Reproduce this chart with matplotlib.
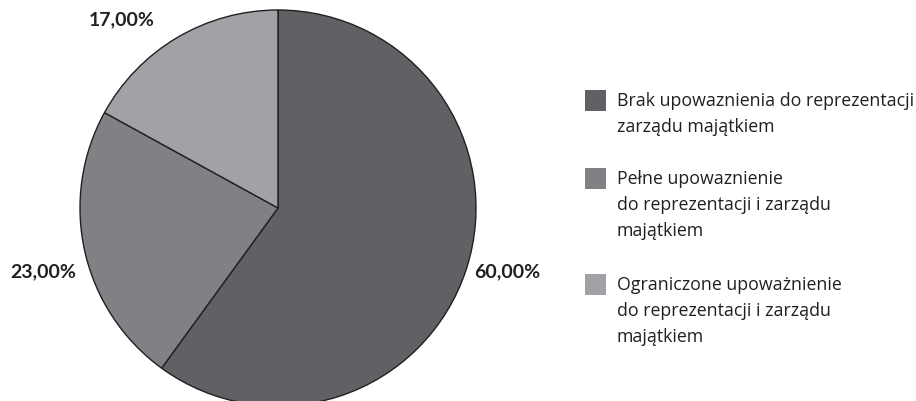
import numpy as np
import matplotlib.pyplot as plt
from matplotlib.patches import Rectangle

# Datos
etiquetas = ['Brak upowaznienia do reprezentacji\nzarządu majątkiem',
             'Pełne upowaznienie\ndo reprezentacji i zarządu\nmajątkiem',
             'Ograniczone upoważnienie\ndo reprezentacji i zarządu\nmajątkiem']
valores = [60, 23, 17]
colores = ['#616064', '#808185', '#a1a2a6']

W, H = 916, 402
fig = plt.figure(figsize=(W / 100, H / 100), dpi=100)
# centro del pastel en (278, 209) px, radio 198 px
ax = fig.add_axes([(278 - 198) / W, (H - 209 - 198) / H, 396 / W, 396 / H])

cunas, _ = ax.pie(valores, colors=colores, startangle=90, counterclock=False,
                  wedgeprops=dict(edgecolor='#231f20', linewidth=1.0))

# Etiquetas de porcentaje (angulo, distancia) por cuña
pos_etiquetas = [(-15.4, 1.20), (195.0, 1.23), (129.5, 1.24)]
for v, (ang, d) in zip(valores, pos_etiquetas):
    a = np.deg2rad(ang)
    ax.text(d * np.cos(a), d * np.sin(a), f'{v:.2f}%'.replace('.', ','),
            ha='center', va='center', fontsize=14, fontweight='bold',
            color='#231f20', family='Lato')

ax.set_xlim(-1, 1)
ax.set_ylim(-1, 1)
ax.set_aspect('equal')
ax.axis('off')

# Leyenda dibujada a mano
y = 101
paso = 26
for i, (color, etiqueta) in enumerate(zip(colores, etiquetas)):
    fig.patches.append(Rectangle((585 / W, 1 - (y + 10.5) / H), 21 / W, 21 / H,
                                 transform=fig.transFigure, facecolor=color,
                                 edgecolor='none'))
    for linea in etiqueta.split('\n'):
        fig.text(617 / W, 1 - y / H, linea, ha='left', va='center',
                 fontsize=12.8, family='Open Sans', color='#231f20')
        y += paso
    y += paso + 2 * i

fig.savefig('out.png', dpi=100)
